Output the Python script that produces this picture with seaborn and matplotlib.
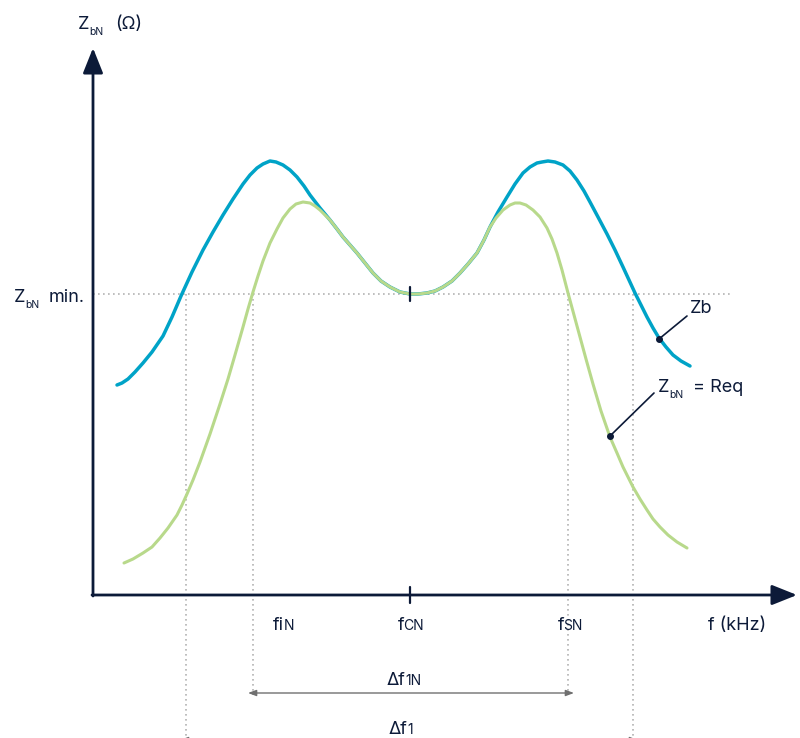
import matplotlib.pyplot as plt
import seaborn as sns
import numpy as np
import pandas as pd

sns.set_theme(style="white")
plt.rcParams['font.family'] = ['Inter', 'DejaVu Sans']

# curve values (f from the origin, Z up from the f axis)
f_zb = [24, 29, 35, 42, 50, 59, 70, 79, 88, 99, 110, 120, 130, 140, 150, 157, 164, 170, 177,
        183, 190, 197, 204, 211, 217, 227, 237, 244, 250, 257, 264, 272, 280, 288, 297, 307,
        317, 325, 334, 342, 350, 359, 367, 375, 384, 391, 397, 405, 414, 422, 430, 437, 444,
        449, 455, 462, 470, 477, 484, 491, 497, 505, 514, 522, 530, 536, 542, 548, 554, 560,
        566, 573, 580, 588, 597]
z_zb = [210, 212, 216, 223, 232, 243, 259, 278, 299, 323, 345, 363, 380, 396, 411, 420, 427, 431, 434,
        433, 430, 425, 418, 409, 400, 387, 375, 366, 358, 350, 342, 332, 322, 314, 308, 303,
        301, 301, 302, 304, 308, 314, 322, 331, 342, 355, 368, 383, 398, 411, 422, 428, 432,
        433, 434, 433, 430, 424, 415, 404, 393, 378, 361, 345, 328, 315, 302, 290, 278, 267,
        257, 248, 240, 234, 229]

f_req = [31, 40, 50, 59, 67, 75, 84, 89, 94, 100, 107, 112, 117, 122, 127, 135, 142, 150, 155,
         160, 165, 170, 177, 184, 190, 197, 203, 210, 217, 222, 227, 232, 237, 244, 250, 257,
         264, 272, 280, 288, 297, 307, 317, 325, 334, 342, 350, 359, 367, 375, 384, 391, 397,
         403, 410, 417, 422, 427, 433, 440, 447, 454, 459, 464, 469, 475, 481, 487, 493, 500,
         508, 517, 524, 530, 535, 540, 547, 554, 560, 567, 575, 584, 594]
z_req = [32, 36, 42, 48, 57, 67, 80, 90, 101, 115, 133, 147, 161, 176, 191, 216, 240, 268, 286,
         303, 319, 334, 352, 366, 377, 386, 391, 393, 392, 389, 385, 380, 375, 366, 358, 350,
         342, 332, 322, 314, 308, 303, 301, 301, 302, 304, 308, 314, 322, 331, 342, 355, 368,
         377, 385, 390, 392, 392, 390, 385, 378, 367, 356, 342, 325, 302, 280, 258, 236, 211,
         184, 158, 142, 128, 118, 108, 96, 85, 76, 68, 60, 53, 47]

z_min = 301
f_cn = 317
f_inner = [160, 475]   # fiN, fsN
f_outer = [93, 540]    # band edges of Zb

navy = '#0c1a38'
blue = '#00a3c7'
green = '#b8d98b'
grey = '#b3b3b3'

df_zb = pd.DataFrame({'f': f_zb, 'Z': z_zb})
df_req = pd.DataFrame({'f': f_req, 'Z': z_req})

fig = plt.figure(figsize=(8, 7.38), dpi=100)
ax = fig.add_axes([0, 0, 1, 1])
ax.set_xlim(-93, 707)
ax.set_ylim(-143, 595)
ax.axis('off')

# dotted guides
ax.plot([0, 638], [z_min, z_min], color=grey, lw=1.2, ls=(0, (1, 2)))
for f in f_inner:
    ax.plot([f, f], [z_min, -100], color=grey, lw=1.2, ls=(0, (1, 2)))
for f in f_outer:
    ax.plot([f, f], [z_min, -150], color=grey, lw=1.2, ls=(0, (1, 2)), clip_on=False)

sns.lineplot(data=df_zb, x='f', y='Z', color=blue, lw=2.5, estimator=None, sort=False, ax=ax)
sns.lineplot(data=df_req, x='f', y='Z', color=green, lw=2.2, estimator=None, sort=False, ax=ax)

# axes with arrows
arr = dict(arrowstyle='-|>,head_length=0.55,head_width=0.22', color=navy, lw=2,
           shrinkA=0, shrinkB=0, mutation_scale=28)
ax.annotate('', xy=(0, 547), xytext=(0, -1), arrowprops=arr)
ax.annotate('', xy=(704, 0), xytext=(-1, 0), arrowprops=arr)
ax.plot([f_cn, f_cn], [-8, 8], color=navy, lw=1.6)
ax.plot([f_cn, f_cn], [z_min - 7, z_min + 7], color=navy, lw=1.6)

# dimension arrows
dim = dict(arrowstyle='<|-|>,head_length=0.4,head_width=0.15', color='#707070', lw=1,
           shrinkA=0, shrinkB=0, mutation_scale=12)
ax.annotate('', xy=(155, -98), xytext=(481, -98), arrowprops=dim)
ax.annotate('', xy=(87, -145), xytext=(545, -145), arrowprops=dim, annotation_clip=False)

big = 13
small = 10
tiny = 7.5


def two_part(x, y, main, sub, sub_size=small, dy=0, kern=0):
    ax.text(x + kern, y, main, ha='right', va='baseline', fontsize=big, color=navy)
    ax.text(x, y - dy, sub, ha='left', va='baseline', fontsize=sub_size, color=navy)


# y axis title
two_part(-4, 566, 'Z', 'bN', tiny, 6)
ax.text(22, 566, '(Ω)', ha='left', va='baseline', fontsize=big, color=navy)
two_part(-68, 293, 'Z', 'bN', tiny, 6)
ax.text(-44, 293, 'min.', ha='left', va='baseline', fontsize=big, color=navy)

# f axis labels
two_part(191, -35, 'fi', 'N')
two_part(310, -35, 'f', 'CN', kern=1.5)
two_part(470, -35, 'f', 'SN', kern=1.5)
ax.text(615, -35, 'f (kHz)', ha='left', va='baseline', fontsize=big, color=navy)
two_part(312, -90, 'Δf', '1N')
two_part(314, -139, 'Δf', '1')

# curve labels
ax.plot([566, 594], [256, 279], color=navy, lw=1.2)
ax.plot([566], [256], 'o', color=navy, ms=4)
ax.text(597, 282, 'Zb', ha='left', va='baseline', fontsize=big, color=navy)
ax.plot([517, 561], [159, 202], color=navy, lw=1.2)
ax.plot([517], [159], 'o', color=navy, ms=4)
two_part(576, 203, 'Z', 'bN', tiny, 6)
ax.text(600, 203, '= Req', ha='left', va='baseline', fontsize=big, color=navy)

fig.savefig('out.png', dpi=100)
